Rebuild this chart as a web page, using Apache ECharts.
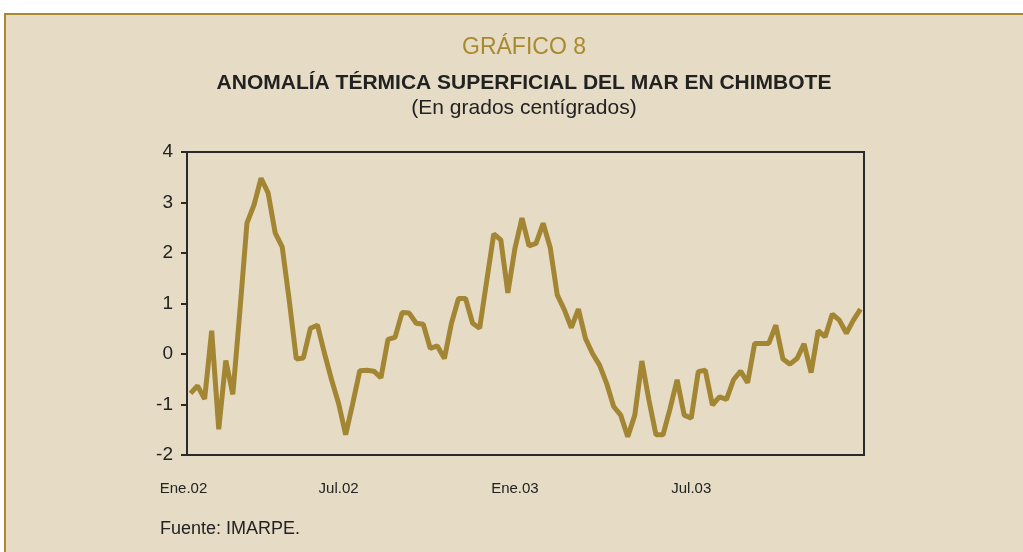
<!DOCTYPE html>
<html>
<head>
<meta charset="utf-8">
<script src="https://cdn.jsdelivr.net/npm/echarts@6/dist/echarts.min.js"></script>
<style>
  body { margin: 0; background: #fff; }
  #frame { position: absolute; left: 4px; top: 13px; width: 1100px; height: 600px;
           border: 2px solid #A8892E; background: #E6DCC6; }
  #chart { position: absolute; left: 0; top: 0; width: 1023px; height: 552px; }
</style>
</head>
<body>
<div id="frame"></div>
<div id="chart"></div>
<script>
// --- Data (weekly anomaly, Ene.02 - Nov.03) ---
var anomaly = [
  -0.78, -0.63, -0.89, 0.46, -1.49, -0.13, -0.80, 0.85, 2.59, 2.95,
  3.48, 3.19, 2.40, 2.12, 1.06, -0.10, -0.08, 0.51, 0.57, 0.01,
  -0.51, -0.98, -1.60, -0.98, -0.33, -0.32, -0.34, -0.47, 0.29, 0.33,
  0.82, 0.81, 0.61, 0.59, 0.11, 0.16, -0.09, 0.61, 1.10, 1.10,
  0.61, 0.51, 1.45, 2.38, 2.26, 1.21, 2.09, 2.69, 2.14, 2.19,
  2.59, 2.11, 1.17, 0.88, 0.52, 0.89, 0.31, 0.01, -0.22, -0.58,
  -1.04, -1.21, -1.64, -1.21, -0.14, -0.91, -1.60, -1.60, -1.08, -0.51,
  -1.21, -1.27, -0.35, -0.32, -1.01, -0.85, -0.90, -0.51, -0.34, -0.57,
  0.21, 0.21, 0.21, 0.57, -0.10, -0.20, -0.09, 0.20, -0.37, 0.46,
  0.34, 0.79, 0.67, 0.41, 0.67, 0.89
];

// tick labels shown under the axis, at these week positions
var tickLabels = ['Ene.02', 'Jul.02', 'Ene.03', 'Jul.03'];
var tickIndex = [0, 21, 46, 71];

// category per week: only the labelled weeks get a text
var weeks = [];
for (var i = 0; i < anomaly.length; i++) {
  var k = tickIndex.indexOf(i);
  weeks.push(k >= 0 ? tickLabels[k] : '');
}

var myChart = echarts.init(document.getElementById('chart'));

var txt = '#222';
var gold = '#A38633';
var font = 'Liberation Sans, Arial, sans-serif';

myChart.setOption({
  backgroundColor: 'transparent',
  animation: false,
  title: [
    {
      text: 'GRÁFICO 8',
      left: 519, top: 31, textAlign: 'center',
      textStyle: { color: '#A8892E', fontSize: 23, fontWeight: 'normal', fontFamily: font }
    },
    {
      text: 'ANOMALÍA TÉRMICA SUPERFICIAL DEL MAR EN CHIMBOTE',
      left: 519, top: 68, textAlign: 'center',
      textStyle: { color: txt, fontSize: 21, fontWeight: 'bold', fontFamily: font }
    },
    {
      text: '(En grados centígrados)',
      left: 519, top: 93, textAlign: 'center',
      textStyle: { color: txt, fontSize: 21, fontWeight: 'normal', fontFamily: font }
    },
    {
      text: 'Fuente: IMARPE.',
      left: 155, top: 515,
      textStyle: { color: txt, fontSize: 18, fontWeight: 'normal', fontFamily: font }
    }
  ],
  grid: {
    left: 187, right: 159, top: 152, bottom: 97,
    show: true,
    borderColor: '#2a2a2a',
    borderWidth: 2,
    backgroundColor: 'transparent'
  },
  xAxis: {
    type: 'category',
    data: weeks,
    boundaryGap: true,
    axisLine: { show: true, onZero: false, lineStyle: { color: '#2a2a2a', width: 2 } },
    axisTick: { show: false },
    axisLabel: {
      interval: 0,
      margin: 26,
      color: txt,
      fontSize: 15,
      fontFamily: font,
      // first label sits a little left of its week
      formatter: function (v) { return v === 'Ene.02' ? '{a|' + v + '}' : v; },
      rich: { a: { fontSize: 15, fontFamily: font, color: txt, padding: [0, 14, 0, 0] } }
    },
    splitLine: { show: false }
  },
  yAxis: {
    type: 'value',
    min: -2, max: 4, interval: 1,
    axisLine: { show: true, lineStyle: { color: '#2a2a2a', width: 2 } },
    axisTick: { show: true, length: 6, lineStyle: { color: '#2a2a2a', width: 2 } },
    axisLabel: {
      margin: 14,
      color: txt,
      fontSize: 19,
      fontFamily: font
    },
    splitLine: { show: false }
  },
  series: [{
    name: 'Anomalía',
    type: 'line',
    data: anomaly,
    symbol: 'none',
    smooth: false,
    lineStyle: { color: gold, width: 5 }
  }]
});
</script>
</body>
</html>
